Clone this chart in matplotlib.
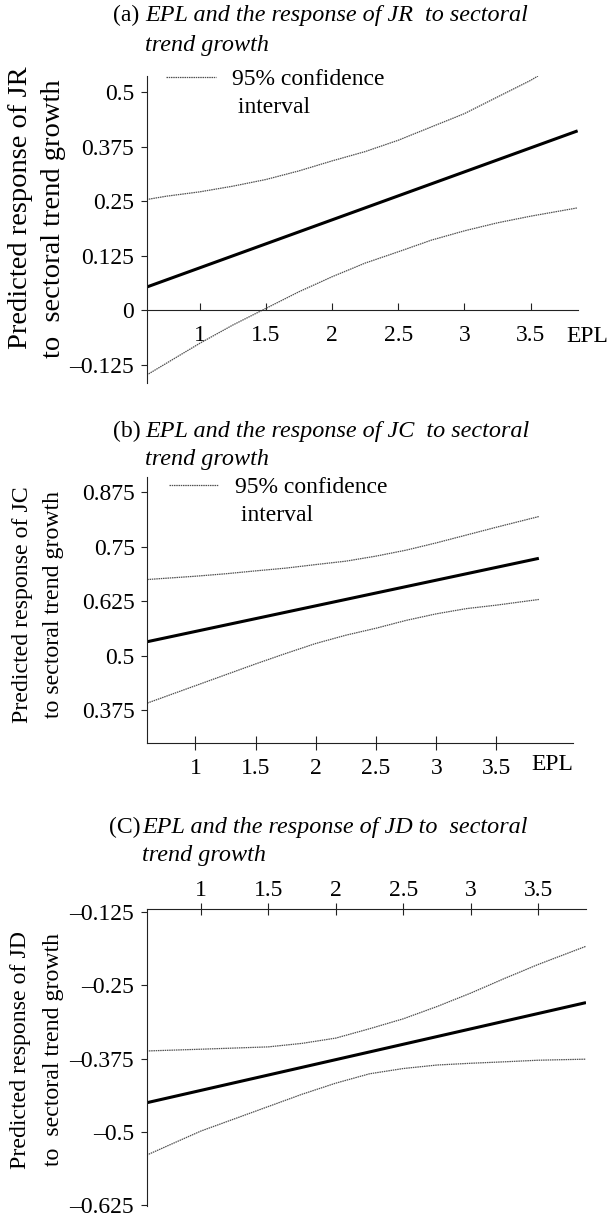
import matplotlib
matplotlib.use("Agg")
import matplotlib.pyplot as plt
from matplotlib.lines import Line2D
from matplotlib.ticker import FixedLocator, FixedFormatter

plt.rcParams["font.family"] = ["Liberation Serif", "DejaVu Serif"]
plt.rcParams["font.size"] = 17

# ── data ──────────────────────────────────────────────────────────────────────
# (a) JR
jr_mid_x = [0.6, 3.855]
jr_mid = [0.0528, 0.4112]
jr_up_x = [0.6, 0.75, 1.0, 1.25, 1.5, 1.75, 2.0, 2.25, 2.5, 2.75, 3.0, 3.25, 3.5, 3.555]
jr_up = [0.2536, 0.2613, 0.2712, 0.2842, 0.2995, 0.3193, 0.3422, 0.3636, 0.3896, 0.4202, 0.4507, 0.489, 0.527, 0.537]
jr_lo_x = [0.6, 1.0, 1.25, 1.5, 1.75, 2.0, 2.25, 2.5, 2.75, 3.0, 3.25, 3.5, 3.855]
jr_lo = [-0.149, -0.0764, -0.0344, 0.0038, 0.042, 0.0764, 0.1078, 0.1337, 0.1604, 0.1818, 0.2002, 0.2154, 0.2345]

# (b) JC
jc_mid_x = [0.6, 3.852]
jc_mid = [0.532, 0.7235]
jc_x = [0.6, 1.0, 1.25, 1.5, 1.75, 2.0, 2.25, 2.5, 2.75, 3.0, 3.25, 3.5, 3.852]
jc_up = [0.6748, 0.6824, 0.688, 0.6947, 0.701, 0.7092, 0.717, 0.7286, 0.7423, 0.759, 0.777, 0.795, 0.8195]
jc_lo = [0.391, 0.431, 0.456, 0.481, 0.505, 0.528, 0.547, 0.563, 0.581, 0.596, 0.608, 0.616, 0.629]

# (c) JD
jd_mid_x = [0.6, 3.853]
jd_mid = [-0.4505, -0.2793]
jd_x = [0.6, 1.0, 1.25, 1.5, 1.75, 2.0, 2.25, 2.5, 2.75, 3.0, 3.25, 3.5, 3.853]
jd_up = [-0.362, -0.359, -0.357, -0.355, -0.349, -0.340, -0.324, -0.307, -0.286, -0.263, -0.238, -0.214, -0.183]
jd_lo = [-0.540, -0.499, -0.478, -0.457, -0.436, -0.417, -0.401, -0.392, -0.386, -0.383, -0.3805, -0.3778, -0.376]

x_ticks = [1, 1.5, 2, 2.5, 3, 3.5]
x_labels = ["1", "1.5", "2", "2.5", "3", "3.5"]
a_yticks = [-0.125, 0, 0.125, 0.25, 0.375, 0.5]
a_ylabels = ["\u20130.125", "0", "0.125", "0.25", "0.375", "0.5"]
b_yticks = [0.375, 0.5, 0.625, 0.75, 0.875]
b_ylabels = ["0.375", "0.5", "0.625", "0.75", "0.875"]
c_yticks = [-0.625, -0.5, -0.375, -0.25, -0.125]
c_ylabels = ["\u20130.625", "\u20130.5", "\u20130.375", "\u20130.25", "\u20130.125"]

W, H = 609, 1220


def fx(px):
    return px / W


def fy(py):
    return 1 - py / H


def box(l, t, r, b):
    return [fx(l), fy(b), fx(r) - fx(l), fy(t) - fy(b)]


fig = plt.figure(figsize=(W / 100, H / 100), dpi=100)

ax_a = fig.add_axes(box(146.7, 76, 578.3, 383.3))
ax_b = fig.add_axes(box(147.3, 476.7, 573.3, 742.7))
ax_c = fig.add_axes(box(146.7, 909, 586, 1206))

CI = dict(color="#505050", lw=0.9, linestyle=(0, (1.2, 0.6)))
MID = dict(color="black", lw=2.2, solid_capstyle="butt")
SPINE = "#222222"


def style(ax, yticks, ylabels):
    ax.set_facecolor("none")
    for s in ax.spines.values():
        s.set_linewidth(0.8)
        s.set_color(SPINE)
    ax.spines["right"].set_visible(False)
    ax.yaxis.set_major_locator(FixedLocator(yticks))
    ax.yaxis.set_major_formatter(FixedFormatter(ylabels))
    ax.xaxis.set_major_locator(FixedLocator(x_ticks))
    ax.xaxis.set_major_formatter(FixedFormatter(x_labels))
    ax.tick_params(axis="y", direction="out", length=4, width=0.8, pad=5,
                   color=SPINE, labelsize=17)


def legend(ax, anchor):
    handles = [Line2D([], [], **CI), Line2D([], [], linestyle="none")]
    ax.legend(handles, ["95% confidence", " interval"], loc="upper left",
              bbox_to_anchor=anchor, frameon=False, borderpad=0,
              borderaxespad=0, handlelength=2.1, handletextpad=0.7,
              labelspacing=0.28, fontsize=17)


# (a)
ax = ax_a
ax.plot(jr_mid_x, jr_mid, **MID)
ax.plot(jr_up_x, jr_up, **CI)
ax.plot(jr_lo_x, jr_lo, **CI)
ax.set_xlim(0.6, 3.86)
ax.set_ylim(-0.168, 0.537)
style(ax, a_yticks, a_ylabels)
ax.spines["top"].set_visible(False)
ax.spines["bottom"].set_position(("data", 0))
ax.tick_params(axis="x", direction="in", length=5, width=0.8, pad=11,
               color=SPINE, labelsize=17)
legend(ax, (0.045, 1.024))

# (b)
ax = ax_b
ax.plot(jc_mid_x, jc_mid, **MID)
ax.plot(jc_x, jc_up, **CI)
ax.plot(jc_x, jc_lo, **CI)
ax.set_xlim(0.6, 4.138)
ax.set_ylim(0.300, 0.911)
style(ax, b_yticks, b_ylabels)
ax.spines["top"].set_visible(False)
ax.tick_params(axis="x", direction="inout", length=10, width=0.8, pad=6,
               color=SPINE, labelsize=17)
legend(ax, (0.05, 1.0))

# (c)
ax = ax_c
ax.plot(jd_mid_x, jd_mid, **MID)
ax.plot(jd_x, jd_up, **CI)
ax.plot(jd_x, jd_lo, **CI)
ax.set_xlim(0.6, 3.853)
ax.set_ylim(-0.627, -0.1193)
style(ax, c_yticks, c_ylabels)
ax.spines["bottom"].set_visible(False)
ax.xaxis.tick_top()
ax.tick_params(axis="x", direction="inout", length=8, width=0.8, pad=1.5,
               color=SPINE, labelsize=17)

# "EPL" axis names next to the last tick label
fig.text(fx(608), fy(336), "EPL", ha="right", va="center", fontsize=17)
fig.text(fx(552), fy(765), "EPL", ha="center", va="center", fontsize=17)

# titles
titles = [
    (113, 15, 145, 45, "(a)", "EPL and the response of JR  to sectoral"),
    (113, 431, 145, 459, "(b)", "EPL and the response of JC  to sectoral"),
    (109, 827, 142, 855, "(C)", "EPL and the response of JD to  sectoral"),
]
for px, py, ix, py2, tag, line in titles:
    fig.text(fx(px), fy(py), tag, ha="left", va="center", fontsize=17)
    fig.text(fx(ix), fy(py), line, ha="left", va="center", fontsize=17.4,
             style="italic")
    fig.text(fx(ix), fy(py2), "trend growth", ha="left", va="center",
             fontsize=17.4, style="italic")

# y labels (panel a is set larger in the original)
ylabels = [
    (21, 208, 54, 219, 20.5, "Predicted response of JR", "to  sectoral trend growth"),
    (23, 605, 54, 604, 17.2, "Predicted response of JC", "to sectoral trend growth"),
    (21, 1050, 54, 1050, 17.2, "Predicted response of JD", "to  sectoral trend growth"),
]
for x1, y1, x2, y2, size, l1, l2 in ylabels:
    fig.text(fx(x1), fy(y1), l1, rotation=90, ha="center", va="center",
             fontsize=size)
    fig.text(fx(x2), fy(y2), l2, rotation=90, ha="center", va="center",
             fontsize=size)

fig.savefig("out.png", dpi=100, facecolor="white")
